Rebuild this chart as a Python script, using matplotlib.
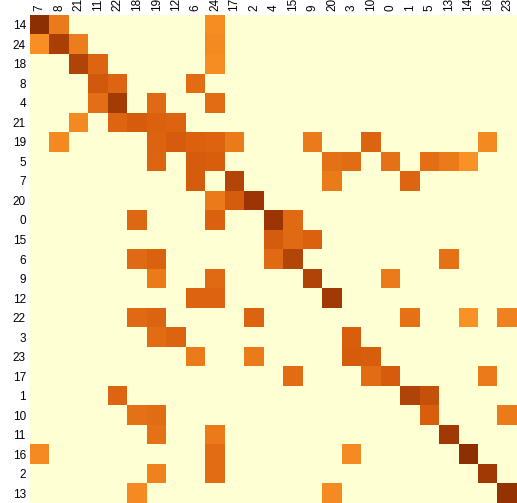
import numpy as np
import matplotlib
matplotlib.use("Agg")
import matplotlib.pyplot as plt
from matplotlib.colors import LinearSegmentedColormap

row_labels = ["14", "24", "18", "8", "4", "21", "19", "5", "7", "20", "0", "15", "6",
              "9", "12", "22", "3", "23", "17", "1", "10", "11", "16", "2", "13"]
col_labels = ["7", "8", "21", "11", "22", "18", "19", "12", "6", "24", "17", "2", "4",
              "15", "9", "20", "3", "10", "0", "1", "5", "13", "14", "16", "23"]

# cell values, rows in row_labels order, columns in col_labels order
values = [
    [1.0, .63, 0, 0, 0, 0, 0, 0, 0, .55, 0, 0, 0, 0, 0, 0, 0, 0, 0, 0, 0, 0, 0, 0, 0],
    [.54, .91, .62, 0, 0, 0, 0, 0, 0, .57, 0, 0, 0, 0, 0, 0, 0, 0, 0, 0, 0, 0, 0, 0, 0],
    [0, 0, .89, .72, 0, 0, 0, 0, 0, .55, 0, 0, 0, 0, 0, 0, 0, 0, 0, 0, 0, 0, 0, 0, 0],
    [0, 0, 0, .78, .72, 0, 0, 0, .69, 0, 0, 0, 0, 0, 0, 0, 0, 0, 0, 0, 0, 0, 0, 0, 0],
    [0, 0, 0, .68, .93, 0, .70, 0, 0, .69, 0, 0, 0, 0, 0, 0, 0, 0, 0, 0, 0, 0, 0, 0, 0],
    [0, 0, .57, 0, .72, .76, .74, .73, 0, 0, 0, 0, 0, 0, 0, 0, 0, 0, 0, 0, 0, 0, 0, 0, 0],
    [0, .57, 0, 0, 0, 0, .73, .76, .74, .73, .63, 0, 0, 0, .63, 0, 0, .73, 0, 0, 0, 0, 0, .57, 0],
    [0, 0, 0, 0, 0, 0, .72, 0, .76, .75, 0, 0, 0, 0, 0, .67, .69, 0, .67, 0, .68, .63, .53, 0, 0],
    [0, 0, 0, 0, 0, 0, 0, 0, .76, 0, .88, 0, 0, 0, 0, .63, 0, 0, 0, .72, 0, 0, 0, 0, 0],
    [0, 0, 0, 0, 0, 0, 0, 0, 0, .63, .76, .96, 0, 0, 0, 0, 0, 0, 0, 0, 0, 0, 0, 0, 0],
    [0, 0, 0, 0, 0, .71, 0, 0, 0, .74, 0, 0, .96, .70, 0, 0, 0, 0, 0, 0, 0, 0, 0, 0, 0],
    [0, 0, 0, 0, 0, 0, 0, 0, 0, 0, 0, 0, .76, .70, .74, 0, 0, 0, 0, 0, 0, 0, 0, 0, 0],
    [0, 0, 0, 0, 0, .70, .74, 0, 0, 0, 0, 0, .70, .88, 0, 0, 0, 0, 0, 0, 0, .67, 0, 0, 0],
    [0, 0, 0, 0, 0, 0, .63, 0, 0, .70, 0, 0, 0, 0, .89, 0, 0, 0, .63, 0, 0, 0, 0, 0, 0],
    [0, 0, 0, 0, 0, 0, 0, 0, .73, .73, 0, 0, 0, 0, 0, .94, 0, 0, 0, 0, 0, 0, 0, 0, 0],
    [0, 0, 0, 0, 0, .70, .73, 0, 0, 0, 0, .73, 0, 0, 0, 0, 0, 0, 0, .67, 0, 0, .53, 0, .60],
    [0, 0, 0, 0, 0, 0, .69, .73, 0, 0, 0, 0, 0, 0, 0, 0, .75, 0, 0, 0, 0, 0, 0, 0, 0],
    [0, 0, 0, 0, 0, 0, 0, 0, .63, 0, 0, .63, 0, 0, 0, 0, .76, .75, 0, 0, 0, 0, 0, 0, 0],
    [0, 0, 0, 0, 0, 0, 0, 0, 0, 0, 0, 0, 0, .69, 0, 0, 0, .69, .76, 0, 0, 0, 0, .63, 0],
    [0, 0, 0, 0, .72, 0, 0, 0, 0, 0, 0, 0, 0, 0, 0, 0, 0, 0, 0, .89, .82, 0, 0, 0, 0],
    [0, 0, 0, 0, 0, .67, .69, 0, 0, 0, 0, 0, 0, 0, 0, 0, 0, 0, 0, 0, .75, 0, 0, 0, .63],
    [0, 0, 0, 0, 0, 0, .67, 0, 0, .63, 0, 0, 0, 0, 0, 0, 0, 0, 0, 0, 0, .94, 0, 0, 0],
    [.56, 0, 0, 0, 0, 0, 0, 0, 0, .69, 0, 0, 0, 0, 0, 0, .56, 0, 0, 0, 0, 0, 1.0, 0, 0],
    [0, 0, 0, 0, 0, 0, .60, 0, 0, .69, 0, 0, 0, 0, 0, 0, 0, 0, 0, 0, 0, 0, 0, .94, 0],
    [0, 0, 0, 0, 0, .56, 0, 0, 0, 0, 0, 0, 0, 0, 0, .56, 0, 0, 0, 0, 0, 0, 0, 0, .98],
]

plt.rcParams['font.family'] = ['Liberation Sans', 'DejaVu Sans']

cmap = LinearSegmentedColormap.from_list(
    "ylorbr5", [(0, "#ffffd4"), (0.25, "#fed98e"), (0.5, "#fe9929"),
                (0.75, "#d95f0e"), (0.97, "#993404"), (1.0, "#8c2f03")])

fig = plt.figure(figsize=(5.17, 5.03), dpi=100)
ax = fig.add_axes([30 / 517, 0, 487 / 517, 488 / 503])
ax.imshow(np.array(values), cmap=cmap, vmin=0, vmax=1, aspect='auto',
          interpolation='nearest')

ax.xaxis.tick_top()
ax.set_xticks(range(len(col_labels)))
ax.set_xticklabels(col_labels, rotation=90, fontsize=8.5)
ax.set_yticks(range(len(row_labels)))
ax.set_yticklabels(row_labels, fontsize=8.5)
ax.tick_params(length=0, pad=3)
for s in ax.spines.values():
    s.set_visible(False)

fig.savefig("out.png", dpi=100)
